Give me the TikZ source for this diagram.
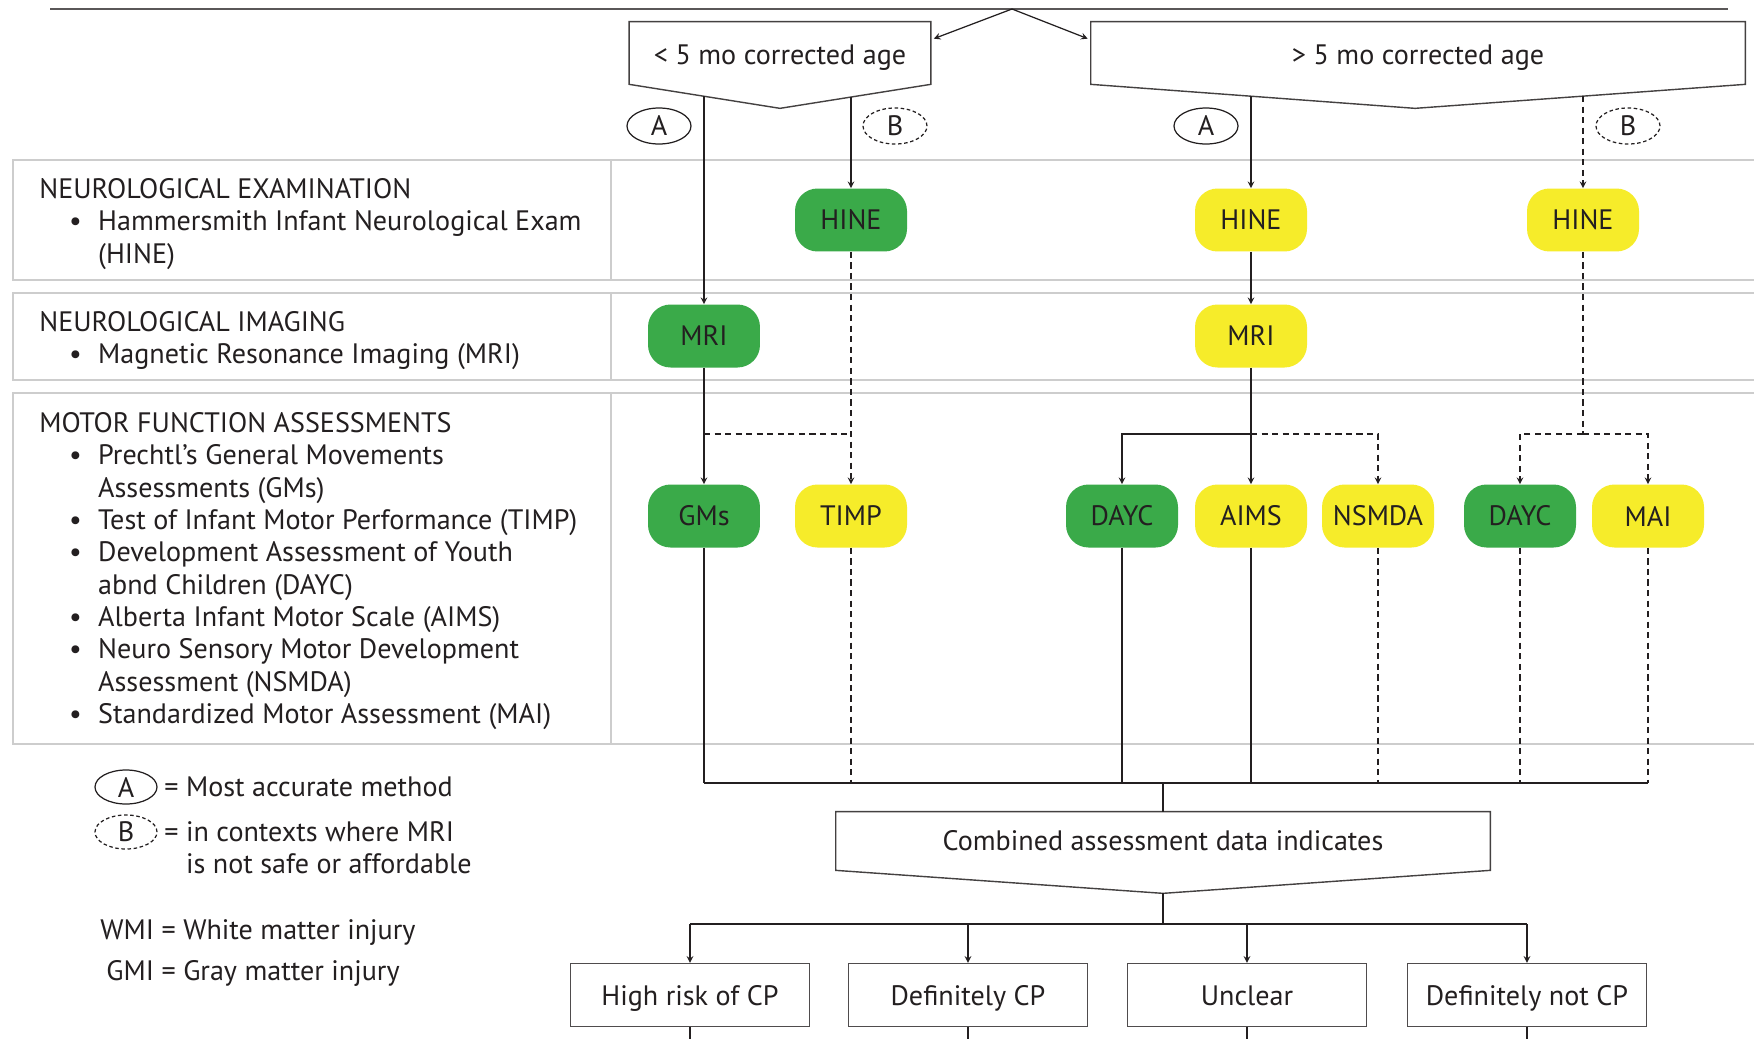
\documentclass[tikz,border=0pt]{standalone}
\usepackage{fontspec}
\setmainfont{PT Sans}
\usepackage{tikz}
\usetikzlibrary{shapes.geometric, arrows, positioning, calc}
\definecolor{pillgreen}{RGB}{58,170,73}
\definecolor{pillyellow}{RGB}{246,236,42}
\definecolor{bandgray}{RGB}{205,205,205}
\definecolor{inkgray}{RGB}{35,31,32}
\tikzset{every node/.style={font=\fontsize{16}{18.4}\selectfont, text=inkgray}}
\newcommand{\bul}{\hspace*{17pt}\makebox[16.5pt][l]{\textbullet}}
\newcommand{\ind}{\hspace*{33.5pt}}

\begin{document}
\begin{tikzpicture}[x=0.02cm, y=-0.02cm]
    % Define styles
    \tikzstyle{agebox} = [rectangle, minimum height=1.24cm, inner sep=0pt]
    \tikzstyle{boxline} = [draw=inkgray!85, line width=0.8pt]
    \tikzstyle{greenpill} = [rectangle, rounded corners=0.45cm, minimum width=2.24cm, minimum height=1.26cm, fill=pillgreen, inner sep=0pt]
    \tikzstyle{yellowpill} = [greenpill, fill=pillyellow]
    \tikzstyle{methodA} = [ellipse, draw=inkgray, line width=0.7pt, minimum width=1.28cm, minimum height=0.72cm, inner sep=0pt]
    \tikzstyle{methodB} = [methodA, dash pattern=on 2pt off 1.5pt]
    \tikzstyle{outbox} = [rectangle, draw=inkgray!80, line width=0.8pt, minimum width=4.78cm, minimum height=1.26cm, text height=15.3pt, text depth=3.5pt]
    \tikzstyle{band} = [draw=bandgray, line width=1.3pt]
    \tikzstyle{conn} = [draw=inkgray, line width=0.7pt]
    \tikzstyle{arrow} = [conn, ->, >=stealth]
    \tikzstyle{dashline} = [conn, dash pattern=on 3.5pt off 2.5pt]
    \tikzstyle{dasharrow} = [dashline, ->, >=stealth]

    \fill[white] (0,0) rectangle (1754,1038);
    \useasboundingbox (0,0) rectangle (1754,1038);

    % Row bands on the left
    \draw[band] (1780,160) -- (13,160) -- (13,280) -- (1780,280);
    \draw[band] (611,160) -- (611,280);
    \draw[band] (1780,293) -- (13,293) -- (13,380) -- (1780,380);
    \draw[band] (611,293) -- (611,380);
    \draw[band] (1780,393) -- (13,393) -- (13,744) -- (1780,744);
    \draw[band] (611,393) -- (611,744);

    \node (exam) [anchor=north west, align=left, inner sep=0pt] at (39,178) {NEUROLOGICAL EXAMINATION\\ \bul Hammersmith Infant Neurological Exam\\ \ind (HINE)};
    \node (imaging) [anchor=north west, align=left, inner sep=0pt] at (39,311) {NEUROLOGICAL IMAGING\\ \bul Magnetic Resonance Imaging (MRI)};
    \node (motor) [anchor=north west, align=left, inner sep=0pt] at (39,412) {MOTOR FUNCTION ASSESSMENTS\\ \bul Prechtl's General Movements\\ \ind Assessments (GMs)\\ \bul Test of Infant Motor Performance (TIMP)\\ \bul Development Assessment of Youth\\ \ind abnd Children (DAYC)\\ \bul Alberta Infant Motor Scale (AIMS)\\ \bul Neuro Sensory Motor Development\\ \ind Assessment (NSMDA)\\ \bul Standardized Motor Assessment (MAI)};

    % Age split
    \coordinate (topl) at (50,9);
    \coordinate (topr) at (1728,9);
    \coordinate (apex) at (1012,9);
    \draw[conn, draw=inkgray!75, line width=1.2pt] (topl) -- (topr);

    \node (agelt) [agebox, minimum width=6.02cm, text height=16.5pt, text depth=3.5pt] at (780,53) {< 5 mo corrected age};
    \node (agert) [agebox, minimum width=13.08cm, text height=16.5pt, text depth=3.5pt] at (1418,53) {> 5 mo corrected age};
    \draw[boxline] (agelt.north west) -- (agelt.north east) -- (agelt.south east) -- ($(agelt.south)+(0,24)$) -- (agelt.south west) -- cycle;
    \draw[boxline] (agert.north west) -- (agert.north east) -- (agert.south east) -- ($(agert.south)+(-3,24)$) -- (agert.south west) -- cycle;
    \draw[arrow] (apex) -- ($(agelt.north east)+(3,17)$);
    \draw[arrow] (apex) -- ($(agert.north west)+(-3,17)$);

    \node (markA1) [methodA] at (659,126) {A};
    \node (markB1) [methodB] at (895,126) {B};
    \node (markA2) [methodA] at (1206,126) {A};
    \node (markB2) [methodB] at (1628,126) {B};

    % Examination, imaging and motor nodes
    \node (hineG) [greenpill] at (851,220) {HINE};
    \node (hineY) [yellowpill] at (1251,220) {HINE};
    \node (hineYB) [yellowpill] at (1583,220) {HINE};
    \node (mriG) [greenpill] at (704,336) {MRI};
    \node (mriY) [yellowpill] at (1251,336) {MRI};
    \node (gms) [greenpill] at (704,516) {GMs};
    \node (timp) [yellowpill] at (851,516) {TIMP};
    \node (daycG) [greenpill] at (1122,516) {DAYC};
    \node (aims) [yellowpill] at (1251,516) {AIMS};
    \node (nsmda) [yellowpill] at (1378,516) {NSMDA};
    \node (daycGB) [greenpill] at (1520,516) {DAYC};
    \node (mai) [yellowpill] at (1648,516) {MAI};

    \coordinate (ltA) at (704,96);
    \coordinate (ltB) at (851,97);
    \coordinate (rtA) at (1251,96);
    \coordinate (rtB) at (1583,96);
    \coordinate (lj) at (704,434);
    \coordinate (lk) at (851,434);
    \coordinate (mj) at (1251,434);
    \coordinate (rj) at (1583,434);

    \draw[arrow] (ltA) -- (mriG.north);
    \draw[arrow] (ltB) -- (hineG.north);
    \draw[arrow] (rtA) -- (hineY.north);
    \draw[dasharrow] (rtB) -- (hineYB.north);
    \draw[arrow] (hineY) -- (mriY);
    \draw[arrow] (mriG) -- (gms);
    \draw[dasharrow] (hineG) -- (timp);
    \draw[dashline] (lj) -- (lk);
    \draw[arrow] (mriY) -- (aims);
    \draw[arrow] (mj) -| (daycG.north);
    \draw[dasharrow] (mj) -| (nsmda.north);
    \draw[dashline] (hineYB) -- (rj);
    \draw[dasharrow] (rj) -| (daycGB.north);
    \draw[dasharrow] (rj) -| (mai.north);

    % Collecting the results
    \coordinate (bus) at (1163,783);
    \draw[conn] (gms.south) -- (gms.south |- bus);
    \draw[dashline] (timp.south) -- (timp.south |- bus);
    \draw[conn] (daycG.south) -- (daycG.south |- bus);
    \draw[conn] (aims.south) -- (aims.south |- bus);
    \draw[dashline] (nsmda.south) -- (nsmda.south |- bus);
    \draw[dashline] (daycGB.south) -- (daycGB.south |- bus);
    \draw[dashline] (mai.south) -- (mai.south |- bus);
    \draw[conn] (gms.south |- bus) -- (mai.south |- bus);

    \node (comb) [agebox, minimum width=13.08cm, minimum height=1.16cm] at (1163,841) {Combined assessment data indicates};
    \draw[boxline] (comb.north west) -- (comb.north east) -- (comb.south east) -- ($(comb.south)+(0,23)$) -- (comb.south west) -- cycle;
    \draw[conn] (bus) -- (comb.north);

    % Outcomes
    \node (high) [outbox] at (690,995) {High risk of CP};
    \node (defcp) [outbox] at (968,995) {Definitely CP};
    \node (unclear) [outbox] at (1247,995) {Unclear};
    \node (notcp) [outbox] at (1527,995) {Definitely not CP};

    \coordinate (obus) at (1163,924);
    \draw[conn] ($(comb.south)+(0,23)$) -- (obus);
    \draw[conn] (high.north |- obus) -- (notcp.north |- obus);
    \draw[arrow] (high.north |- obus) -- (high.north);
    \draw[arrow] (defcp.north |- obus) -- (defcp.north);
    \draw[arrow] (unclear.north |- obus) -- (unclear.north);
    \draw[arrow] (notcp.north |- obus) -- (notcp.north);

    \coordinate (highend) at (690,1050);
    \coordinate (defcpend) at (968,1050);
    \coordinate (unclearend) at (1247,1050);
    \coordinate (notcpend) at (1527,1050);
    \draw[conn] (high.south) -- (highend);
    \draw[conn] (defcp.south) -- (defcpend);
    \draw[conn] (unclear.south) -- (unclearend);
    \draw[conn] (notcp.south) -- (notcpend);

    % Legend
    \node (keyA) [methodA, minimum width=1.24cm, minimum height=0.68cm] at (126,787) {A};
    \node (keyB) [methodB, minimum width=1.24cm, minimum height=0.68cm] at (126,832) {B};
    \node (keyAtext) [anchor=west, inner sep=0pt] at (164,787) {= Most accurate method};
    \node (keyBtext) [anchor=north west, align=left, inner sep=0pt] at (164,821) {= in contexts where MRI\\ \phantom{= }is not safe or affordable};
    \node (abbrev) [anchor=base west, inner sep=0pt] at (100,939) {\renewcommand{\arraystretch}{1.27}\begin{tabular}[t]{@{}r@{ = }l@{}}WMI & White matter injury\\ GMI & Gray matter injury\end{tabular}};
\end{tikzpicture}
\end{document}
